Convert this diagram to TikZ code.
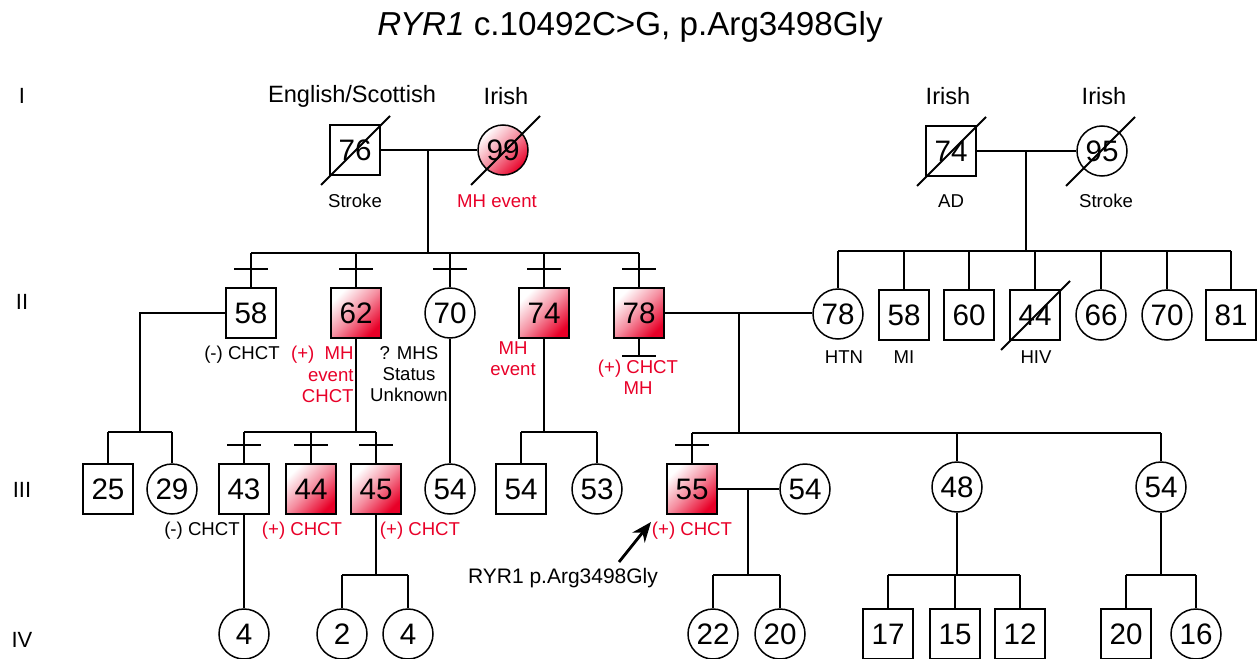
\documentclass[tikz,border=0pt]{standalone}
\usepackage{fontspec}
\setmainfont{Liberation Sans}
\usetikzlibrary{arrows.meta}
\definecolor{mhred}{RGB}{232,0,40}
\tikzset{
	person/.style={draw, line width=0.75pt, minimum size=25pt, inner sep=0pt, font=\fontsize{14.8}{16}\selectfont},
	male/.style={person, rectangle},
	female/.style={person, circle},
	mh/.style={top color=white, bottom color=mhred, middle color=mhred!45!white, shading angle=45},
	line/.style={line width=1pt},
	note/.style={font=\fontsize{9.3}{10.6}\selectfont, align=center, inner sep=0pt},
	rednote/.style={note, text=mhred},
	origin/.style={font=\fontsize{11.8}{14}\selectfont, inner sep=0pt},
	gen/.style={font=\fontsize{11}{13}\selectfont, inner sep=0pt}
}
\begin{document}
\begin{tikzpicture}[x=0.5pt, y=-0.5pt]
	\useasboundingbox (0,0) rectangle (1257,658);

	% title
	\node[font=\fontsize{16.6}{20}\selectfont] (title) at (630,27) {\textit{RYR1} c.10492C>G, p.Arg3498Gly};

	% generation numbers
	\node[gen] (gI) at (22,96) {I};
	\node[gen] (gII) at (22,302) {II};
	\node[gen] (gIII) at (22,490) {III};
	\node[gen] (gIV) at (22,640) {IV};

	% generation I
	\node[male] (I1) at (355,150) {76};
	\node[female, mh] (I2) at (503,150) {99};
	\node[male] (I3) at (951,151) {74};
	\node[female] (I4) at (1102,151) {95};
	\node[origin] (o1) at (352,96) {English/Scottish};
	\node[origin] (o2) at (506,96) {Irish};
	\node[origin] (o3) at (948,96) {Irish};
	\node[origin] (o4) at (1104,96) {Irish};
	\node[note] (n1) at (355,201) {Stroke};
	\node[rednote] (n2) at (497,201) {MH event};
	\node[note] (n3) at (951,201) {AD};
	\node[note] (n4) at (1106,201) {Stroke};

	% generation II
	\node[male] (II1) at (251,313) {58};
	\node[male, mh] (II2) at (356,313) {62};
	\node[female] (II3) at (450,313) {70};
	\node[male, mh] (II4) at (544,313) {74};
	\node[male, mh] (II5) at (639,313) {78};
	\node[female] (II6) at (838,314) {78};
	\node[male] (II7) at (904,315) {58};
	\node[male] (II8) at (969,315) {60};
	\node[male] (II9) at (1035,315) {44};
	\node[female] (II10) at (1101,315) {66};
	\node[female] (II11) at (1167,315) {70};
	\node[male] (II12) at (1231,315) {81};
	\node[note] (n5) at (242,355) {(-) CHCT};
	\node[rednote, align=right, anchor=north east] (n6) at (354,346) {(+)\ \ MH\\event\\CHCT};
	\node[note, anchor=north] (n7) at (409,346) {? MHS\\Status\\Unknown};
	\node[rednote] (n8) at (513,359) {MH\\event};
	\node[rednote] (n9) at (638,377) {(+) CHCT\\MH};
	\node[note] (n10) at (844,357) {HTN};
	\node[note] (n11) at (904,357) {MI};
	\node[note] (n12) at (1036,357) {HIV};

	% generation III
	\node[male] (III1) at (108,489) {25};
	\node[female] (III2) at (172,489) {29};
	\node[male] (III3) at (244,489) {43};
	\node[male, mh] (III4) at (311,489) {44};
	\node[male, mh] (III5) at (376,489) {45};
	\node[female] (III6) at (450,489) {54};
	\node[male] (III7) at (521,489) {54};
	\node[female] (III8) at (597,489) {53};
	\node[male, mh] (III9) at (692,489) {55};
	\node[female] (III10) at (805,489) {54};
	\node[female] (III11) at (957,487) {48};
	\node[female] (III12) at (1161,487) {54};
	\node[note] (n13) at (202,531) {(-) CHCT};
	\node[rednote] (n14) at (302,531) {(+) CHCT};
	\node[rednote] (n15) at (420,531) {(+) CHCT};
	\node[rednote] (n16) at (692,531) {(+) CHCT};
	\node[note, font=\fontsize{10.5}{12}\selectfont] (n17) at (563,578) {RYR1 p.Arg3498Gly};

	% generation IV
	\node[female] (IV1) at (244,634) {4};
	\node[female] (IV2) at (342,634) {2};
	\node[female] (IV3) at (408,634) {4};
	\node[female] (IV4) at (713,634) {22};
	\node[female] (IV5) at (780,634) {20};
	\node[male] (IV6) at (888,634) {17};
	\node[male] (IV7) at (955,634) {15};
	\node[male] (IV8) at (1020,634) {12};
	\node[male] (IV9) at (1126,634) {20};
	\node[female] (IV10) at (1196,634) {16};

	% deceased
	\draw[line] (I1.center) ++(-34,35) -- ++(69,-69);
	\draw[line] (I2.center) ++(-32,35) -- ++(69,-69);
	\draw[line] (I3.center) ++(-34,35) -- ++(69,-69);
	\draw[line] (I4.center) ++(-36,35) -- ++(69,-69);
	\draw[line] (II9.center) ++(-34,35) -- ++(69,-69);

	% marriage and descent points
	\coordinate (m1) at (428,150);
	\coordinate (s1) at (428,253);
	\coordinate (m2) at (1026,151);
	\coordinate (s2) at (1026,251);
	\coordinate (m3) at (739,313);
	\coordinate (s3) at (739,433);
	\coordinate (s4) at (140,432);
	\coordinate (s5) at (356,432);
	\coordinate (s6) at (544,432);
	\coordinate (m4) at (748,489);
	\coordinate (s7) at (748,575);
	\coordinate (s8) at (376,575);
	\coordinate (s9) at (957,575);
	\coordinate (s10) at (1161,575);

	%draw left family
	\draw[line] (I1) -- (I2)
	(m1) -- (s1)
	(II1.north |- s1) -- (II5.north |- s1)
	(II1.north |- s1) -- (II1.north)
	(II2.north |- s1) -- (II2.north)
	(II3.north |- s1) -- (II3.north)
	(II4.north |- s1) -- (II4.north)
	(II5.north |- s1) -- (II5.north);
	\draw[line] (II1.north) ++(-17,-18) -- ++(34,0)
	(II2.north) ++(-17,-18) -- ++(34,0)
	(II3.north) ++(-17,-18) -- ++(34,0)
	(II4.north) ++(-17,-18) -- ++(34,0)
	(II5.north) ++(-17,-18) -- ++(34,0);
	\draw[line] (II5.south) -- ++(0,17) ++(-17,0) -- ++(34,0);

	%draw right family
	\draw[line] (I3) -- (I4)
	(m2) -- (s2)
	(II6.north |- s2) -- (II12.north |- s2)
	(II6.north |- s2) -- (II6.north)
	(II7.north |- s2) -- (II7.north)
	(II8.north |- s2) -- (II8.north)
	(II9.north |- s2) -- (II9.north)
	(II10.north |- s2) -- (II10.north)
	(II11.north |- s2) -- (II11.north)
	(II12.north |- s2) -- (II12.north);

	%draw generation III
	\draw[line] (II1.west) -| (s4)
	(III1.north |- s4) -- (III2.north |- s4)
	(III1.north |- s4) -- (III1.north)
	(III2.north |- s4) -- (III2.north);
	\draw[line] (II2.south) -- (s5)
	(III3.north |- s5) -- (III5.north |- s5)
	(III3.north |- s5) -- (III3.north)
	(III4.north |- s5) -- (III4.north)
	(III5.north |- s5) -- (III5.north);
	\draw[line] (III3.north) ++(-17,-18) -- ++(34,0)
	(III4.north) ++(-17,-18) -- ++(34,0)
	(III5.north) ++(-17,-18) -- ++(34,0);
	\draw[line] (II3) -- (III6);
	\draw[line] (II4.south) -- (s6)
	(III7.north |- s6) -- (III8.north |- s6)
	(III7.north |- s6) -- (III7.north)
	(III8.north |- s6) -- (III8.north);
	\draw[line] (II5) -- (m3) -- (II6.west |- m3)
	(m3) -- (s3)
	(III9.north |- s3) -- (III12.north |- s3)
	(III9.north |- s3) -- (III9.north)
	(III11.north |- s3) -- (III11.north)
	(III12.north |- s3) -- (III12.north);
	\draw[line] (III9.north) ++(-17,-18) -- ++(34,0);

	%draw generation IV
	\draw[line] (III3) -- (IV1);
	\draw[line] (III5.south) -- (s8)
	(IV2.north |- s8) -- (IV3.north |- s8)
	(IV2.north |- s8) -- (IV2.north)
	(IV3.north |- s8) -- (IV3.north);
	\draw[line] (III9) -- (III10)
	(m4) -- (s7)
	(IV4.north |- s7) -- (IV5.north |- s7)
	(IV4.north |- s7) -- (IV4.north)
	(IV5.north |- s7) -- (IV5.north);
	\draw[line] (III11.south) -- (s9)
	(IV6.north |- s9) -- (IV8.north |- s9)
	(IV6.north |- s9) -- (IV6.north)
	(IV7.north |- s9) -- (IV7.north)
	(IV8.north |- s9) -- (IV8.north);
	\draw[line] (III12.south) -- (s10)
	(IV9.north |- s10) -- (IV10.north |- s10)
	(IV9.north |- s10) -- (IV9.north)
	(IV10.north |- s10) -- (IV10.north);

	% proband arrow
	\coordinate (tail) at (619,562);
	\coordinate (tip) at (651,522);
	\draw[line width=1.4pt, -{Stealth[length=10pt, width=8pt]}] (tail) -- (tip);

\end{tikzpicture}
\end{document}
